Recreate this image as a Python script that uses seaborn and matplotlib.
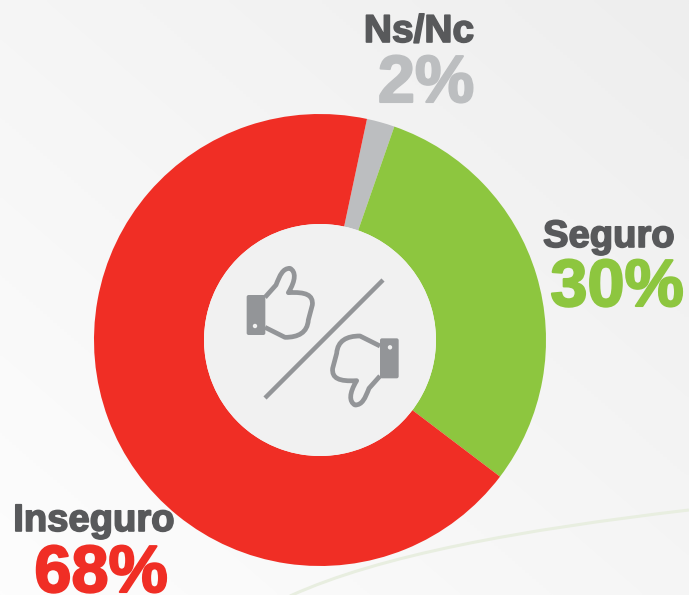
import numpy as np
import matplotlib.pyplot as plt
import matplotlib.patheffects as pe
from matplotlib.patches import PathPatch, Circle, FancyBboxPatch
from matplotlib.path import Path
from matplotlib.colors import LinearSegmentedColormap
import seaborn as sns

# datos
categorias = ['Ns/Nc', 'Seguro', 'Inseguro']
valores = [2, 30, 68]
colores = ['#bcbec0', '#8dc63f', '#f02e25']
colores_pct = ['#bcbec0', '#8dc63f', '#f02e25']

sns.set_theme(style='white')
plt.rcParams['font.family'] = ['Liberation Sans', 'DejaVu Sans']

fig = plt.figure(figsize=(6.89, 5.95), dpi=100)
ax = fig.add_axes([0, 0, 1, 1])
ax.set_xlim(0, 689)
ax.set_ylim(595, 0)
ax.axis('off')

# fondo
xx, yy = np.meshgrid(np.linspace(0, 1, 200), np.linspace(0, 1, 200))
grad = np.clip((xx + (1 - yy)) / 2, 0, 1)
cmap = LinearSegmentedColormap.from_list('fondo', ['#fdfdfd', '#eeeeee'])
ax.imshow(grad, extent=(0, 689, 595, 0), cmap=cmap, vmin=0, vmax=1, aspect='auto', zorder=0)

# linea verde suave abajo
curva = Path([(290, 596), (380, 555), (520, 530), (689, 510)],
             [Path.MOVETO, Path.CURVE4, Path.CURVE4, Path.CURVE4])
ax.add_patch(PathPatch(curva, fc='none', ec='#e8eee0', lw=2.2, zorder=1))

# dona (eje y invertido, por eso counterclock=True va en sentido horario)
ax.pie(valores, colors=colores, center=(320, 340), radius=226, startangle=-78,
       counterclock=True, wedgeprops=dict(width=110, linewidth=0), frame=False)
ax.set_xlim(0, 689)
ax.set_ylim(595, 0)
ax.set_aspect('auto')
ax.axis('off')
ax.add_patch(Circle((320, 340), 116, fc='#f1f1f1', ec='none', zorder=3))

# iconos
gris = '#939598'


def zoom_xy(p, girar=False):
    x, y = p
    if girar:
        x, y = 615 - x, 580 - y
    return (220 + x / 3, 240 + y / 3)


def pulgar(girar=False):
    puntos = [(135, 172), (168, 135), (180, 105), (188, 85), (210, 85), (228, 95), (228, 120),
              (205, 158), (258, 155), (280, 165), (277, 195), (265, 240), (262, 278), (235, 292),
              (195, 292), (135, 262)]
    cod = [Path.MOVETO, Path.LINETO, Path.CURVE4, Path.CURVE4, Path.CURVE4, Path.CURVE4, Path.CURVE4,
           Path.LINETO, Path.CURVE4, Path.CURVE4, Path.CURVE4, Path.LINETO, Path.CURVE4, Path.CURVE4,
           Path.CURVE4, Path.LINETO]
    ax.add_patch(PathPatch(Path([zoom_xy(p, girar) for p in puntos], cod), fc='none', ec=gris,
                           lw=3.4, joinstyle='round', zorder=4))
    x0, y0 = zoom_xy((80, 165) if not girar else (480, 295))
    ax.add_patch(FancyBboxPatch((x0 + 2, y0 + 2), 56 / 3 - 4, 120 / 3 - 4,
                                boxstyle='round,pad=2', fc=gris, ec='none', zorder=4))
    ax.add_patch(Circle(zoom_xy((105, 258), girar), 2.2, fc='#f1f1f1', ec='none', zorder=5))


pulgar()
pulgar(True)
ax.plot([383, 265], [280, 398], color=gris, lw=3.2, zorder=4, solid_capstyle='butt')

# textos
gruesa = [pe.withStroke(linewidth=1.2, foreground='#58595b')]
ax.text(419, 32, categorias[0], color='#58595b', fontsize=28, fontweight='bold',
        ha='center', va='center', path_effects=gruesa, zorder=6)
ax.text(609, 237, categorias[1], color='#58595b', fontsize=27.5, fontweight='bold',
        ha='center', va='center', path_effects=gruesa, zorder=6)
ax.text(94, 521, categorias[2], color='#58595b', fontsize=27.5, fontweight='bold',
        ha='center', va='center', path_effects=gruesa, zorder=6)

pcts = [(426, 85), (617, 289), (101, 575)]
for v, c, (x, y) in zip(valores, colores_pct, pcts):
    ax.text(x, y, f'{v}%', color=c, fontsize=48, fontweight='bold', ha='center', va='center',
            path_effects=[pe.withStroke(linewidth=1.5, foreground=c)], zorder=6)

fig.savefig('out.png', dpi=100)
